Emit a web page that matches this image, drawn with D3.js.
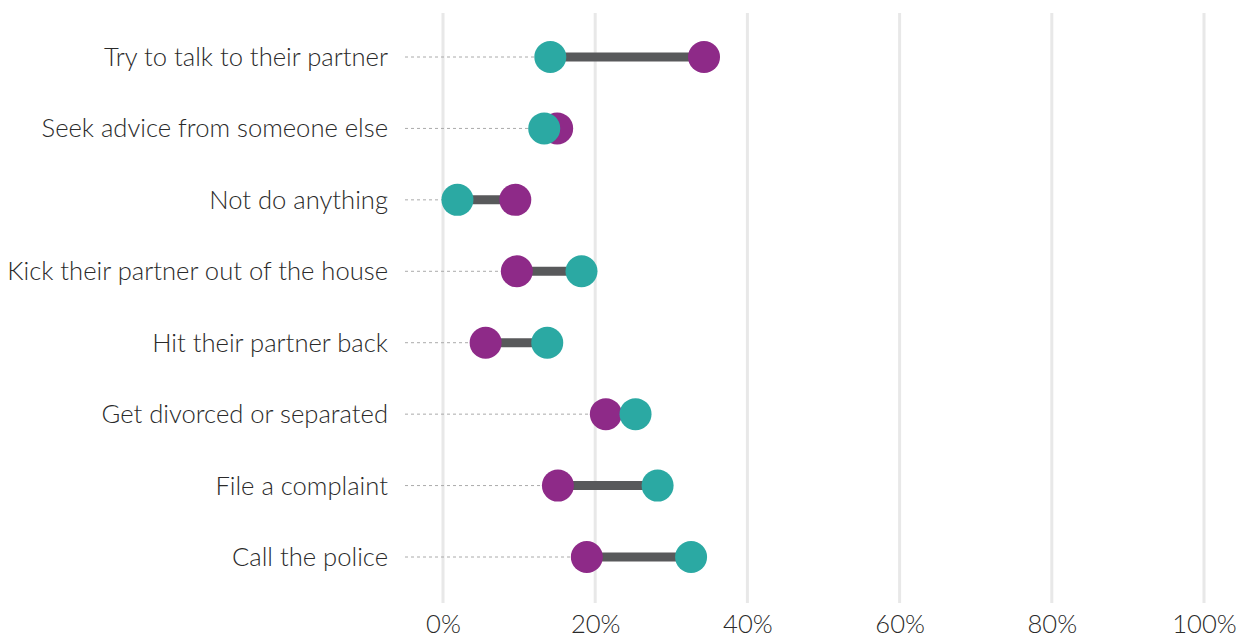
<!DOCTYPE html>
<html>
<head>
<meta charset="utf-8">
<script src="https://cdn.jsdelivr.net/npm/d3@7"></script>
<style>
  html, body { margin: 0; padding: 0; background: #fff; }
  svg { display: block; }
  .lbl { font-family: "Lato Light", "Lato Hairline", Lato, sans-serif; font-weight: 300; }
</style>
</head>
<body>
<svg id="chart" width="1243" height="637"></svg>
<script>
// Responses (share of respondents, %) for each action
const categories = [
  "Try to talk to their partner",
  "Seek advice from someone else",
  "Not do anything",
  "Kick their partner out of the house",
  "Hit their partner back",
  "Get divorced or separated",
  "File a complaint",
  "Call the police"
];
const purpleValues = [34.3, 15.0, 9.5, 9.7, 5.6, 21.4, 15.1, 18.9];
const tealValues   = [14.1, 13.3, 1.9, 18.2, 13.7, 25.3, 28.2, 32.6];
const tickValues = [0, 20, 40, 60, 80, 100];

const rows = categories.map((c, i) => ({ name: c, purple: purpleValues[i], teal: tealValues[i] }));

const svg = d3.select("#chart");
const x = d3.scaleLinear().domain([0, 100]).range([443, 1204]);
const y = d3.scalePoint().domain(categories).range([57, 557]);

// vertical grid
svg.append("g").selectAll("line").data(tickValues).join("line")
  .attr("x1", d => x(d)).attr("x2", d => x(d))
  .attr("y1", 13).attr("y2", 603)
  .attr("stroke", "#e8e8e8").attr("stroke-width", 3);

// x axis labels
const xAxis = d3.axisBottom(x).tickValues(tickValues).tickFormat(d => d + "%").tickSize(0).tickPadding(0);
const gx = svg.append("g").attr("transform", "translate(0,624)").call(xAxis);
gx.select(".domain").remove();
gx.selectAll("text").attr("class", "lbl").attr("font-size", 25.6).attr("fill", "#2a2a2a").attr("dy", "0.35em");

// category labels
const gy = svg.append("g").attr("transform", "translate(388,0)")
  .call(d3.axisLeft(y).tickSize(0).tickPadding(0));
gy.select(".domain").remove();
gy.selectAll("text").attr("class", "lbl").attr("font-size", 25.6).attr("fill", "#2a2a2a").attr("dy", "0.33em");

const g = svg.append("g");

// dotted leaders from label to first dot
g.selectAll(".leader").data(rows).join("line")
  .attr("class", "leader")
  .attr("x1", 405).attr("x2", d => x(Math.min(d.purple, d.teal)))
  .attr("y1", d => y(d.name)).attr("y2", d => y(d.name))
  .attr("stroke", "#aaa").attr("stroke-width", 1).attr("stroke-dasharray", "3,3");

// connecting bars
g.selectAll(".bar").data(rows).join("line")
  .attr("class", "bar")
  .attr("x1", d => x(d.purple)).attr("x2", d => x(d.teal))
  .attr("y1", d => y(d.name)).attr("y2", d => y(d.name))
  .attr("stroke", "#58595b").attr("stroke-width", 9);

// dots
g.selectAll(".purple").data(rows).join("circle")
  .attr("class", "purple")
  .attr("cx", d => x(d.purple)).attr("cy", d => y(d.name)).attr("r", 16)
  .attr("fill", "#8e2a88");
g.selectAll(".teal").data(rows).join("circle")
  .attr("class", "teal")
  .attr("cx", d => x(d.teal)).attr("cy", d => y(d.name)).attr("r", 16)
  .attr("fill", "#2ba9a3");
</script>
</body>
</html>
